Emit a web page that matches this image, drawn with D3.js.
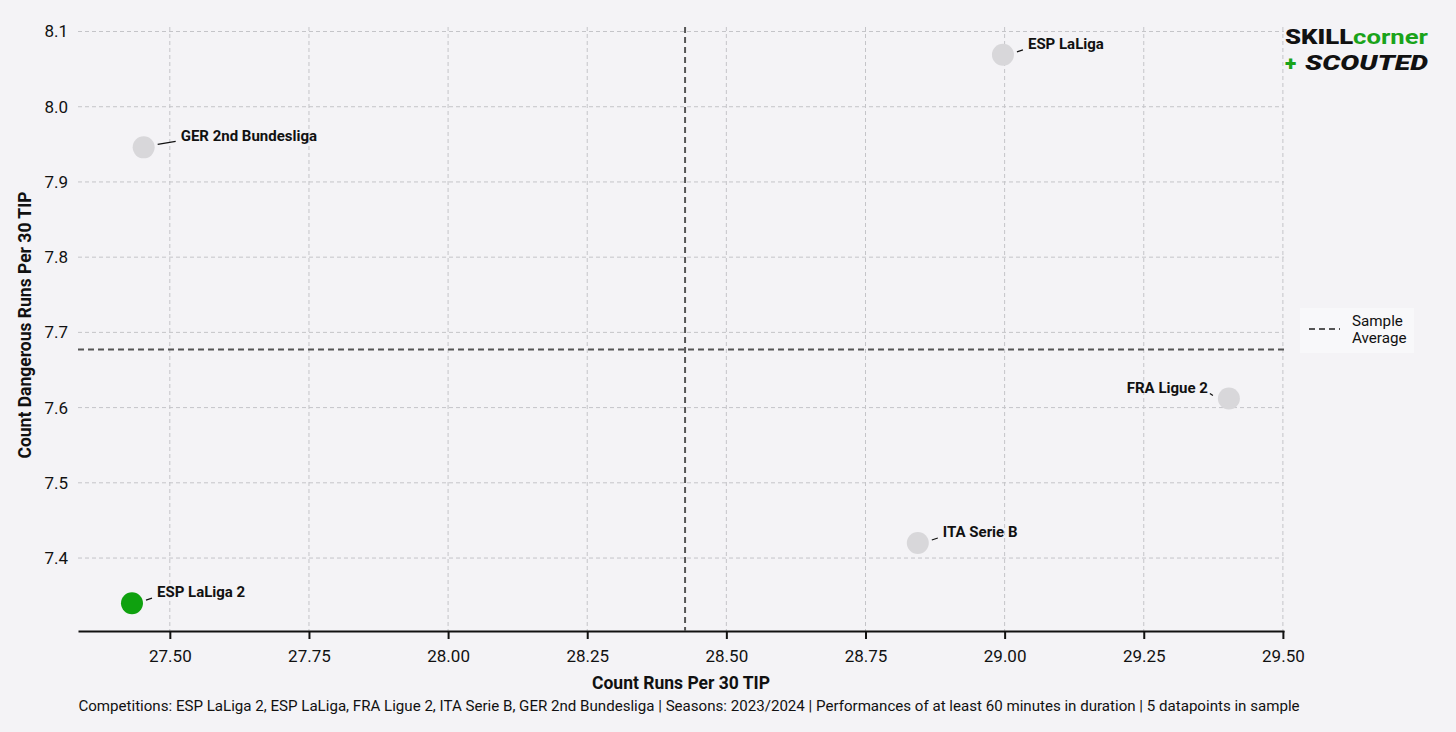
<!DOCTYPE html>
<html><head><meta charset="utf-8">
<script src="https://cdn.jsdelivr.net/npm/d3@7"></script>
<style>
html,body{margin:0;padding:0;background:#f4f3f6;}
svg{display:block;font-family:Roboto,"Noto Sans",sans-serif;}
</style></head>
<body><svg id="c" width="1456" height="732"></svg>
<script>
const competitions = ["ESP LaLiga 2","GER 2nd Bundesliga","ESP LaLiga","FRA Ligue 2","ITA Serie B"];
const runsPer30 = [27.432, 27.453, 28.997, 29.403, 28.844];
const dangerousRunsPer30 = [7.340, 7.946, 8.069, 7.612, 7.420];
const highlighted = ["ESP LaLiga 2"];
const xTicks = [27.50, 27.75, 28.00, 28.25, 28.50, 28.75, 29.00, 29.25, 29.50];
const yTicks = [7.4, 7.5, 7.6, 7.7, 7.8, 7.9, 8.0, 8.1];
const xTitle = "Count Runs Per 30 TIP";
const yTitle = "Count Dangerous Runs Per 30 TIP";
const footer = "Competitions: ESP LaLiga 2, ESP LaLiga, FRA Ligue 2, ITA Serie B, GER 2nd Bundesliga | Seasons: 2023/2024 | Performances of at least 60 minutes in duration | 5 datapoints in sample";
const legendLabel = ["Sample", "Average"];

const svg = d3.select("#c");
const L = 78, R = 1284, T = 27, B = 631;
const x = d3.scaleLinear().domain([27.335, 29.502]).range([L, R]);
const y = d3.scaleLinear().domain([7.303, 8.106]).range([B, T]);

// grid
const grid = svg.append("g");
grid.selectAll(".vx").data(xTicks).join("line")
  .attr("x1", d => x(d)).attr("x2", d => x(d)).attr("y1", T).attr("y2", B)
  .attr("stroke", "#c4c4c8").attr("stroke-width", 1).attr("stroke-dasharray", "4,3");
grid.selectAll(".hy").data(yTicks).join("line")
  .attr("x1", L).attr("x2", R).attr("y1", d => y(d)).attr("y2", d => y(d))
  .attr("stroke", "#c4c4c8").attr("stroke-width", 1).attr("stroke-dasharray", "4,3");

// x axis
const xAxis = svg.append("g").attr("transform", `translate(0,${B})`)
  .call(d3.axisBottom(x).tickValues(xTicks).tickFormat(d3.format(".2f")).tickSize(8).tickSizeOuter(0));
xAxis.select(".domain").attr("stroke", "#111").attr("stroke-width", 2);
xAxis.selectAll(".tick line").attr("stroke", "#111").attr("stroke-width", 2);
xAxis.selectAll(".tick text").attr("font-size", 17).attr("fill", "#111").attr("dy", "1.15em").attr("font-family", "Roboto");

// y axis (labels only)
const yAxis = svg.append("g").attr("transform", `translate(${L},0)`)
  .call(d3.axisLeft(y).tickValues(yTicks).tickFormat(d3.format(".1f")).tickSize(0).tickPadding(10));
yAxis.select(".domain").remove();
yAxis.selectAll(".tick text").attr("font-size", 17).attr("fill", "#111").attr("font-family", "Roboto");

// averages
const meanX = d3.mean(runsPer30), meanY = d3.mean(dangerousRunsPer30);
svg.append("line").attr("x1", x(meanX)).attr("x2", x(meanX)).attr("y1", T).attr("y2", B)
  .attr("stroke", "#555", ).attr("stroke-width", 2).attr("stroke-dasharray", "6,4");
svg.append("line").attr("x1", L).attr("x2", R).attr("y1", y(meanY)).attr("y2", y(meanY))
  .attr("stroke", "#555").attr("stroke-width", 2).attr("stroke-dasharray", "6,4");

// points
const data = competitions.map((c, i) => ({c, x: runsPer30[i], y: dangerousRunsPer30[i]}));
const pts = svg.append("g");
pts.selectAll("circle").data(data).join("circle")
  .attr("cx", d => x(d.x)).attr("cy", d => y(d.y)).attr("r", 11)
  .attr("fill", d => highlighted.includes(d.c) ? "#0fa10f" : "#d8d7da");

// labels
data.forEach(d => {
  const px = x(d.x), py = y(d.y);
  const left = px > R - 100;
  const long = d.c.length > 15;
  const dx = left ? -21 : (long ? 37 : 25);
  const dy = -11;
  const lx1 = left ? px - 16 : px + 14;
  const ly1 = py - 3;
  const lx2 = left ? px - 19 : px + (long ? 32 : 20);
  const ly2 = py - (long ? 6 : 5);
  svg.append("line").attr("x1", lx1).attr("y1", ly1).attr("x2", lx2).attr("y2", ly2)
    .attr("stroke", "#111").attr("stroke-width", 1.2);
  svg.append("text").attr("x", px + dx).attr("y", py + dy + 5)
    .attr("text-anchor", left ? "end" : "start")
    .attr("font-size", 15).attr("font-weight", "bold").attr("fill", "#111").text(d.c);
});

// titles
svg.append("text").attr("x", 681).attr("y", 689).attr("text-anchor", "middle")
  .attr("font-size", 17.5).attr("font-weight", "bold").attr("fill", "#111").text(xTitle);
svg.append("text").attr("transform", `translate(31,325) rotate(-90)`).attr("text-anchor", "middle")
  .attr("font-size", 17.5).attr("font-weight", "bold").attr("fill", "#111").text(yTitle);
svg.append("text").attr("x", 689).attr("y", 711).attr("text-anchor", "middle")
  .attr("font-size", 15.1).attr("fill", "#111").text(footer);

// legend
const lg = svg.append("g");
lg.append("rect").attr("x", 1300).attr("y", 308).attr("width", 114).attr("height", 45).attr("fill", "#f8f8fa");
lg.append("line").attr("x1", 1309).attr("x2", 1340).attr("y1", 329).attr("y2", 329)
  .attr("stroke", "#555").attr("stroke-width", 2).attr("stroke-dasharray", "6,4");
lg.append("text").attr("font-size", 15.2).attr("fill", "#111")
  .selectAll("tspan").data(legendLabel).join("tspan")
  .attr("x", 1352).attr("y", (d, i) => 326 + i * 17).text(d => d);

// logo
const l1 = svg.append("text").attr("x", 1285).attr("y", 44).attr("font-size", 21).attr("font-weight", 900)
  .attr("textLength", 143).attr("lengthAdjust", "spacingAndGlyphs");
l1.append("tspan").attr("fill", "#111").text("SKILL");
l1.append("tspan").attr("fill", "#1aa31a").attr("font-weight", 700).text("corner");
svg.append("text").attr("x", 1285).attr("y", 70).attr("font-size", 21).attr("font-weight", 900)
  .attr("fill", "#1aa31a").text("+");
svg.append("text").attr("x", 1305).attr("y", 70).attr("font-size", 21).attr("font-weight", 900)
  .attr("font-style", "italic").attr("fill", "#111")
  .attr("textLength", 123).attr("lengthAdjust", "spacingAndGlyphs").text("SCOUTED");
</script></body></html>
